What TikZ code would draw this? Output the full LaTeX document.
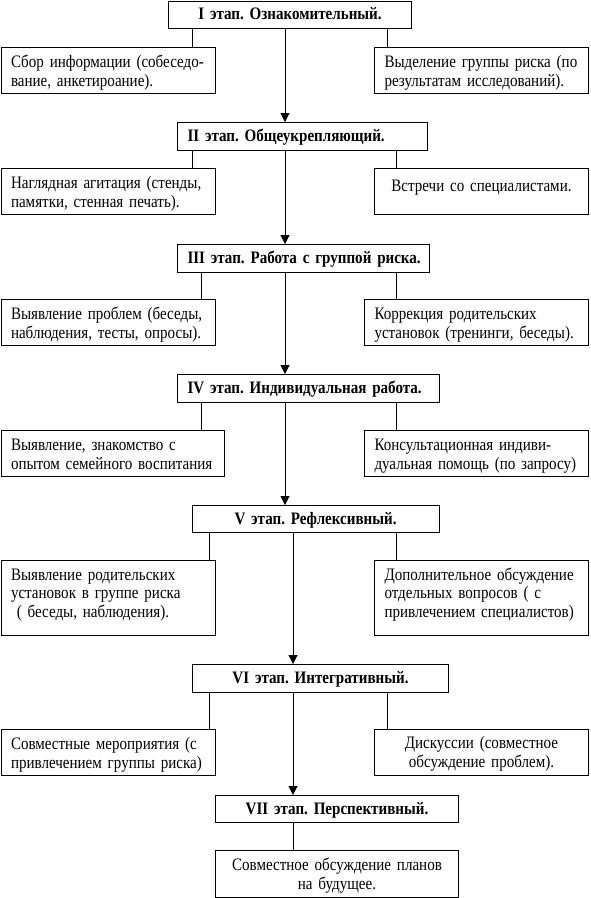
\documentclass[tikz,border=0pt]{standalone}
\usepackage{fontspec}
\setmainfont{Liberation Serif}[FakeStretch=0.86]
\usetikzlibrary{arrows.meta}
\newcommand{\txtfont}{\fontsize{17.5}{18.5}\selectfont\frenchspacing\spaceskip=3.7pt plus 1pt minus 1pt\relax}
\tikzset{
  box/.style={draw, line width=1pt, anchor=north west, inner ysep=0pt,
    font=\txtfont},
  stage/.style={box, font=\txtfont\bfseries,
    text height=19pt, text depth=9pt},
  stagec/.style={stage, align=center, inner xsep=0pt},
  side/.style={box, text height=20pt, text depth=26pt},
  sidel/.style={side, align=left, inner xsep=10pt},
  sidec/.style={side, align=center, inner xsep=0pt},
  conn/.style={line width=1pt},
  arr/.style={line width=1pt, -{Triangle[width=9pt,length=9pt]}}
}
\begin{document}
\begin{tikzpicture}[x=1pt,y=-1pt]
\useasboundingbox (0,0) rectangle (590,898);
% stage boxes
\node[stagec, text width=243pt, text height=18.5pt] (I) at (168,0.5) {I этап. Ознакомительный.};
\node[stage, align=left, inner xsep=10pt, text width=230pt] (II) at (177,122) {\mbox{II этап. Общеукрепляющий.}};
\node[stage, align=left, inner xsep=10pt, text width=232pt] (III) at (177,244) {\mbox{III этап. Работа с группой риска.}};
\node[stage, align=left, inner xsep=10pt, text width=242pt] (IV) at (177,374) {\mbox{IV этап. Индивидуальная работа.}};
\node[stage, align=left, inner xsep=42pt, text width=163pt, text depth=8pt] (V) at (192,505) {\mbox{V этап. Рефлексивный.}};
\node[stagec, text width=256pt] (VI) at (192,664) {VI этап. Интегративный.};
\node[stagec, text width=243pt, text depth=8pt] (VII) at (215,795) {VII этап. Перспективный.};
\node[sidec, text width=243pt, text depth=26.5pt] (F) at (215,850) {Совместное обсуждение планов\\на будущее.};
% side boxes
\node[sidel, inner xsep=10pt, text width=194.5pt] (L1) at (0.5,47) {\mbox{Сбор информации (собеседо-}\\\mbox{вание, анкетироание).}};
\node[sidel, text width=194pt] (R1) at (374,47) {\mbox{Выделение группы риска (по}\\\mbox{результатам исследований).}};
\node[sidel, inner xsep=10pt, text width=194.5pt] (L2) at (0.5,168) {\mbox{Наглядная агитация (стенды,}\\\mbox{памятки, стенная печать).}};
\node[sidec, text width=214pt, text height=23pt, text depth=23pt] (R2) at (374,168) {Встречи со специалистами.};
\node[sidel, inner xsep=10pt, text width=194.5pt] (L3) at (0.5,299) {\mbox{Выявление проблем (беседы,}\\\mbox{наблюдения, тесты, опросы).}};
\node[sidel, text width=204pt] (R3) at (364,299) {\mbox{Коррекция родительских}\\\mbox{установок (тренинги, беседы).}};
\node[sidel, inner xsep=10pt, text width=203.5pt] (L4) at (0.5,430) {\mbox{Выявление, знакомство с}\\\mbox{опытом семейного воспитания}};
\node[sidel, text width=204pt] (R4) at (364,430) {\mbox{Консультационная индиви-}\\\mbox{дуальная помощь (по запросу)}};
\node[sidel, inner xsep=10pt, text width=194.5pt, text height=19.5pt, text depth=55.5pt] (L5) at (0.5,560) {\mbox{Выявление родительских}\\\mbox{установок в группе риска}\\\mbox{\ ( беседы, наблюдения).}};
\node[sidel, text width=194pt, text height=19.5pt, text depth=55.5pt] (R5) at (374,560) {\mbox{Дополнительное обсуждение}\\\mbox{отдельных вопросов ( с}\\\mbox{привлечением специалистов)}};
\node[sidel, inner xsep=10pt, text width=194.5pt] (L6) at (0.5,729) {\mbox{Совместные мероприятия (с}\\\mbox{привлечением группы риска)}};
\node[sidec, text width=214pt, text height=19pt, text depth=27pt] (R6) at (374,729) {Дискуссии (совместное\\обсуждение проблем).};
% spine
\draw[arr] ([xshift=117pt]I.south west) -- ([xshift=117pt]I.south west |- II.north);
\draw[arr] ([xshift=108pt]II.south west) -- ([xshift=108pt]II.south west |- III.north);
\draw[arr] ([xshift=108pt]III.south west) -- ([xshift=108pt]III.south west |- IV.north);
\draw[arr] ([xshift=108pt]IV.south west) -- ([xshift=108pt]IV.south west |- V.north);
\draw[arr] ([xshift=101pt]V.south west) -- ([xshift=101pt]V.south west |- VI.north);
\draw[arr] ([xshift=101pt]VI.south west) -- ([xshift=101pt]VI.south west |- VII.north);
\draw[conn] ([xshift=78pt]VII.south west) -- ([xshift=78pt]VII.south west |- F.north);
% stubs
\draw[conn] ([xshift=24pt]I.south west) -- ([xshift=24pt]I.south west |- L1.north);
\draw[conn] ([xshift=219pt]I.south west) -- ([xshift=219pt]I.south west |- R1.north);
\draw[conn] ([xshift=15pt]II.south west) -- ([xshift=15pt]II.south west |- L2.north);
\draw[conn] ([xshift=219pt]II.south west) -- ([xshift=219pt]II.south west |- R2.north);
\draw[conn] ([xshift=24pt]III.south west) -- ([xshift=24pt]III.south west |- L3.north);
\draw[conn] ([xshift=219pt]III.south west) -- ([xshift=219pt]III.south west |- R3.north);
\draw[conn] ([xshift=24pt]IV.south west) -- ([xshift=24pt]IV.south west |- L4.north);
\draw[conn] ([xshift=219pt]IV.south west) -- ([xshift=219pt]IV.south west |- R4.north);
\draw[conn] ([xshift=17pt]V.south west) -- ([xshift=17pt]V.south west |- L5.north);
\draw[conn] ([xshift=204pt]V.south west) -- ([xshift=204pt]V.south west |- R5.north);
\draw[conn] ([xshift=17pt]VI.south west) -- ([xshift=17pt]VI.south west |- L6.north);
\draw[conn] ([xshift=195pt]VI.south west) -- ([xshift=195pt]VI.south west |- R6.north);
\end{tikzpicture}
\end{document}
